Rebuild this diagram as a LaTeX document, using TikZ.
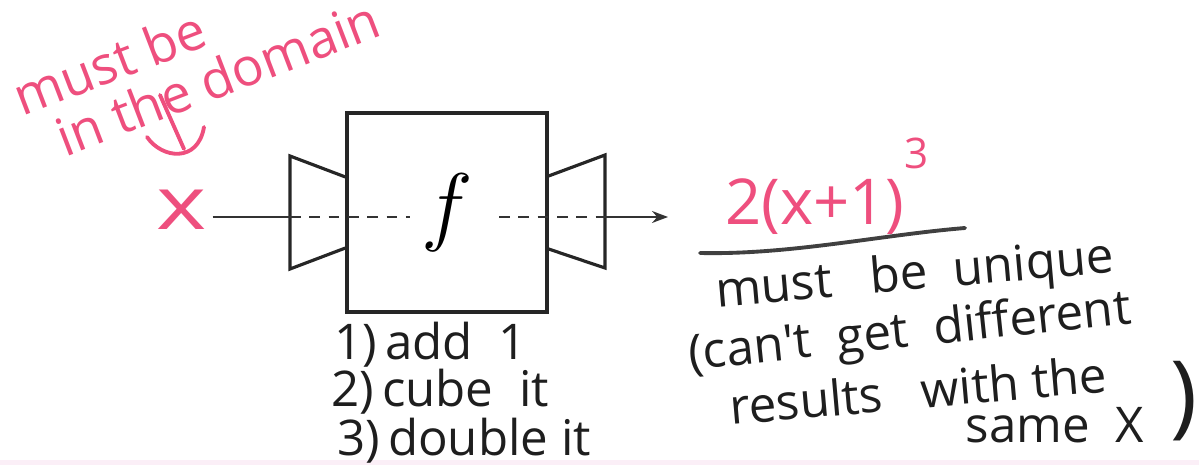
\documentclass[tikz,border=0pt]{standalone}
\usepackage{fontspec}
\usepackage{tikz}
\usetikzlibrary{positioning, arrows.meta, calc}
\newfontfamily\hand{Open Sans}
\definecolor{cPen}{HTML}{EE4F7E}
\definecolor{cInk}{HTML}{1E1E1E}
\definecolor{cEdge}{HTML}{FBEFF7}

\begin{document}
\begin{tikzpicture}[
  font=\hand,
  >={Stealth[length=1.6mm, width=1.2mm]},
  machine/.style={draw=black!85, line width=0.9pt, minimum width=20mm,
                  minimum height=19.9mm, inner sep=0pt},
  funnel/.style={draw=black!85, line width=0.9pt, line join=miter},
  pen/.style={text=cPen, inner sep=1pt},
  ink/.style={text=cInk, inner sep=1pt, font=\hand\fontsize{14}{17}\selectfont},
  penline/.style={draw=cPen, line width=1.1pt, line cap=round},
  feed/.style={draw=black!80, line width=0.5pt},
]
\useasboundingbox (0,0) rectangle (11.99,4.65);
\fill[cEdge] (0,0) rectangle (11.99,0.05);

% ---- the function machine ---------------------------------------------
\node[machine] (fbox) at (4.47,2.525)
  {\fontsize{24}{28}\selectfont\raisebox{1pt}{$f$}};

% input and output funnels
\draw[funnel] ($(fbox.west) + (0,0.355)$) -- (2.90,3.09) -- (2.90,1.96)
  -- ($(fbox.west) + (0,-0.355)$);
\draw[funnel] ($(fbox.east) + (0,0.365)$) -- (6.05,3.10) -- (6.05,1.97)
  -- ($(fbox.east) + (0,-0.365)$);

% ---- input / output line ----------------------------------------------
\node[pen, font=\hand\fontsize{21}{24}\selectfont, xscale=1.3] (xin) at (1.82,2.55) {x};
\coordinate (inL)  at (2.90,2.48);
\coordinate (fL)   at (4.10,2.48);
\coordinate (fR)   at (4.99,2.48);
\coordinate (inR)  at (6.05,2.48);
\coordinate (tip)  at (6.68,2.48);

\draw[feed] (xin.east |- inL) -- (inL);
\draw[feed, dashed, dash pattern=on 3pt off 2.5pt] (inL) -- (fL);
\draw[feed, dashed, dash pattern=on 3pt off 2.5pt] (fR) -- (inR);
\draw[feed, ->] (inR) -- (tip);

% ---- domain note --------------------------------------------------------
\node[pen, rotate=21, anchor=north west, align=left,
      font=\hand\fontsize{15}{15}\selectfont]
  (domain) at (0.03,3.88) {must be\\\hspace*{2.5mm}in the domain};
\draw[penline] (1.60,3.70) -- (1.84,3.16);
\draw[penline] (1.47,3.28) .. controls (1.62,3.06) and (1.98,3.02) .. (2.04,3.38);

% ---- output value -----------------------------------------------------
\node[pen, font=\hand\fontsize{18}{22}\selectfont] (out) at (8.15,2.58)
  {2(x+1)};
\node[pen, font=\hand\fontsize{12}{14}\selectfont] (cube) at (9.17,3.12) {3};
\draw[draw=black!75, line width=1.1pt, line cap=round]
  (7.00,2.12) .. controls (7.9,2.10) and (8.8,2.30) .. (9.65,2.37);

% ---- uniqueness note --------------------------------------------------
\node[ink, rotate=5] (uniq) at (9.15,1.88) {must\ \ \ be\ \ unique};
\node[ink, rotate=6] (cant) at (9.10,1.31) {(can't\ \ get\ \ different};
\node[ink, rotate=5] (res)  at (9.18,0.75) {results\ \ \ with\ the};
\node[ink] (same) at (10.55,0.40) {same\ \ X};
\node[ink, font=\hand\fontsize{26}{30}\selectfont] (close) at (11.84,0.64) {)};

% ---- steps ------------------------------------------------------------
\node[ink, anchor=west] (s1) at (3.30,1.20) {1)\,add\ \ 1};
\node[ink, anchor=west] (s2) at (3.27,0.73) {2)\,cube\ \ it};
\node[ink, anchor=west] (s3) at (3.33,0.24) {3)\,double\ it};

\end{tikzpicture}
\end{document}
